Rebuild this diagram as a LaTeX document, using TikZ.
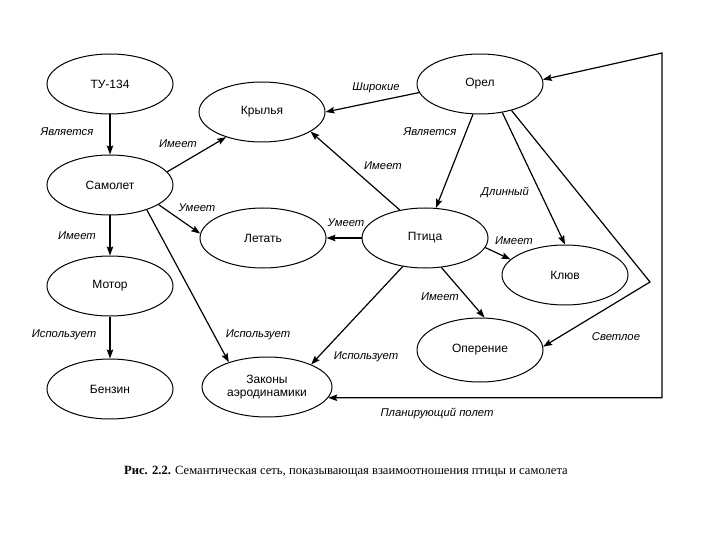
\documentclass[tikz,border=0pt]{standalone}
\usepackage{fontspec}
\setmainfont{Liberation Serif}
\newfontfamily\arialfont{Liberation Sans}
\usetikzlibrary{positioning, arrows.meta, shapes.geometric, calc}

\begin{document}
\begin{tikzpicture}[
    x=1pt, y=-1pt,
    concept/.style={draw, ellipse, line width=1pt, inner sep=0pt, minimum width=126pt, minimum height=60pt, align=center, font=\arialfont\fontsize{12}{13.5}\selectfont},
    lbl/.style={font=\arialfont\itshape\fontsize{11.3}{13}\selectfont, inner sep=0pt},
    arrow/.style={-{Stealth[length=9pt, width=6.5pt, inset=1.5pt]}, line width=1.2pt},
    twoway/.style={{Stealth[length=9pt, width=6.5pt, inset=1.5pt]}-{Stealth[length=9pt, width=6.5pt, inset=1.5pt]}, line width=1.2pt}
]
\useasboundingbox (0,0) rectangle (720,540);

% concepts, left column
\node[concept] (tu) at (110,84) {ТУ-134};
\node[concept, below=40pt of tu] (sam) {Самолет};
\node[concept, below=40pt of sam] (mot) {Мотор};
\node[concept, below=42pt of mot] (benz) {Бензин};

% concepts, middle and right
\node[concept] (kr) at (262,112) {Крылья};
\node[concept] (let) at (263,238) {Летать};
\node[concept, minimum width=130pt] (zak) at (267,387) {Законы\\аэродинамики};
\node[concept] (orel) at (480,84) {Орел};
\node[concept] (ptica) at (425,238) {Птица};
\node[concept] (kluv) at (565,275) {Клюв};
\node[concept, minimum height=64pt] (oper) at (480,350) {Оперение};

\coordinate (bend) at (650,282);
\coordinate (corner) at (662,53);

% links
\draw[arrow] (tu) -- (sam);
\draw[arrow] (sam.13) -- (kr.215);
\draw[arrow] (sam.-22) -- (let.176);
\draw[arrow] (sam.-34) -- (zak.147);
\draw[arrow] (sam) -- (mot);
\draw[arrow] (mot) -- (benz);
\draw[arrow] (orel.188) -- (kr.0);
\draw[arrow] (orel.257) -- (ptica.70);
\draw[arrow] (orel.308) -- (kluv.90);
\draw[arrow] (orel.320) -- (bend) -- (oper.3);
\draw[arrow] (ptica.132) -- (kr.-22);
\draw[arrow] (ptica) -- (let);
\draw[arrow] (ptica.-9) -- (kluv.164);
\draw[arrow] (ptica.-61) -- (oper.82);
\draw[arrow] (ptica.232) -- (zak.27);
\draw[twoway] (zak.-10) -- (zak.-10 -| corner) -- (corner) -- (orel.4);

% link labels
\node[lbl] (isTu) at (67,132) {Является};
\node[lbl] (hasSamKr) at (178,144) {Имеет};
\node[lbl] (canSam) at (197,208) {Умеет};
\node[lbl] (hasSamMot) at (77,236) {Имеет};
\node[lbl] (usesMot) at (64,335) {Использует};
\node[lbl] (usesSam) at (258,335) {Использует};
\node[lbl] (wide) at (376,88) {Широкие};
\node[lbl] (isOrel) at (430,132) {Является};
\node[lbl] (hasPtKr) at (383,166) {Имеет};
\node[lbl] (long) at (505,192) {Длинный};
\node[lbl] (canPt) at (346,223) {Умеет};
\node[lbl] (hasPtKl) at (514,241) {Имеет};
\node[lbl] (hasPtOp) at (440,297) {Имеет};
\node[lbl] (usesPt) at (366,357) {Использует};
\node[lbl] (light) at (616,337) {Светлое};
\node[lbl] (glide) at (437,413) {Планирующий полет};

% caption
\node[font=\fontsize{12.6}{14}\selectfont] (caption) at (346,472) {\textbf{Рис. 2.2.} Семантическая сеть, показывающая взаимоотношения птицы и самолета};

\end{tikzpicture}
\end{document}
